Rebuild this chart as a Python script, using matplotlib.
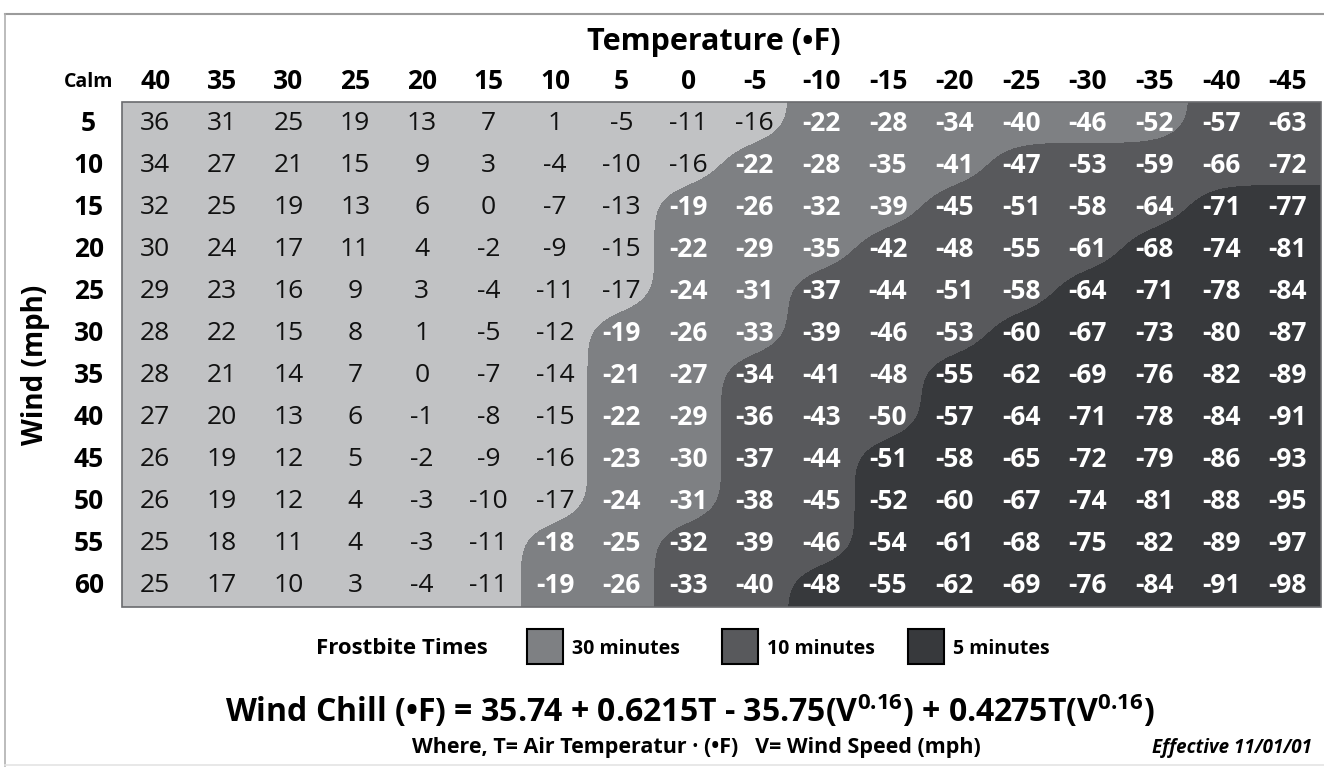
import numpy as np
import matplotlib
matplotlib.use("Agg")
import matplotlib.pyplot as plt
from matplotlib.patches import Rectangle
from matplotlib.lines import Line2D

# ---- data ----
temps = [40, 35, 30, 25, 20, 15, 10, 5, 0, -5, -10, -15, -20, -25, -30, -35, -40, -45]
winds = [5, 10, 15, 20, 25, 30, 35, 40, 45, 50, 55, 60]
chill = [
    [36, 31, 25, 19, 13, 7, 1, -5, -11, -16, -22, -28, -34, -40, -46, -52, -57, -63],
    [34, 27, 21, 15, 9, 3, -4, -10, -16, -22, -28, -35, -41, -47, -53, -59, -66, -72],
    [32, 25, 19, 13, 6, 0, -7, -13, -19, -26, -32, -39, -45, -51, -58, -64, -71, -77],
    [30, 24, 17, 11, 4, -2, -9, -15, -22, -29, -35, -42, -48, -55, -61, -68, -74, -81],
    [29, 23, 16, 9, 3, -4, -11, -17, -24, -31, -37, -44, -51, -58, -64, -71, -78, -84],
    [28, 22, 15, 8, 1, -5, -12, -19, -26, -33, -39, -46, -53, -60, -67, -73, -80, -87],
    [28, 21, 14, 7, 0, -7, -14, -21, -27, -34, -41, -48, -55, -62, -69, -76, -82, -89],
    [27, 20, 13, 6, -1, -8, -15, -22, -29, -36, -43, -50, -57, -64, -71, -78, -84, -91],
    [26, 19, 12, 5, -2, -9, -16, -23, -30, -37, -44, -51, -58, -65, -72, -79, -86, -93],
    [26, 19, 12, 4, -3, -10, -17, -24, -31, -38, -45, -52, -60, -67, -74, -81, -88, -95],
    [25, 18, 11, 4, -3, -11, -18, -25, -32, -39, -46, -54, -61, -68, -75, -82, -89, -97],
    [25, 17, 10, 3, -4, -11, -19, -26, -33, -40, -48, -55, -62, -69, -76, -84, -91, -98],
]
# column index where the 30 / 10 / 5 minute frostbite zones start, per wind row
zone_starts = [
    [10, 16, 18], [9, 13, 18], [8, 12, 16], [8, 11, 15], [8, 10, 14], [7, 10, 13],
    [7, 9, 12], [7, 9, 12], [7, 9, 11], [7, 9, 11], [6, 8, 11], [6, 8, 10],
]
frost_labels = ["30 minutes", "10 minutes", "5 minutes"]
zone_colors = ["#c1c2c4", "#7e8083", "#58595c", "#37393c"]

FONT = "Open Sans"
plt.rcParams["font.family"] = [FONT, "DejaVu Sans"]
plt.rcParams["mathtext.fontset"] = "custom"
plt.rcParams["mathtext.rm"] = FONT + ":bold"
plt.rcParams["mathtext.default"] = "rm"

W, H = 1324, 770
fig = plt.figure(figsize=(W / 100, H / 100), dpi=100)
fig.patch.set_facecolor("white")

def fx(px):
    return px / W

def fy(py):
    return 1 - py / H

# table axes: 122..1321 px wide, 102..607 px tall
left, right, top, bottom = 122, 1321, 102, 607
ax = fig.add_axes([fx(left), fy(bottom), (right - left) / W, (bottom - top) / H])
ncol, nrow = len(temps), len(winds)
ax.set_xlim(0, ncol)
ax.set_ylim(nrow, 0)
ax.axis("off")

# zone matrix -> smoothed field so the boundaries curve like the original
zone = np.array([[sum(c >= s for s in st) for c in range(ncol)] for st in zone_starts], float)
up = 24
fine = np.kron(zone, np.ones((up, up)))

def blur(a, sigma, axis):
    r = int(3 * sigma)
    k = np.exp(-0.5 * (np.arange(-r, r + 1) / sigma) ** 2)
    k /= k.sum()
    pad = [(0, 0), (0, 0)]
    pad[axis] = (r, r)
    a = np.pad(a, pad, mode="edge")
    return np.apply_along_axis(lambda v: np.convolve(v, k, mode="valid"), axis, a)

smooth = blur(blur(fine, 0.45 * up, 1), 0.45 * up, 0)
xs = np.linspace(0, ncol, fine.shape[1])
ys = np.linspace(0, nrow, fine.shape[0])
ax.contourf(xs, ys, smooth, levels=[-1, 0.5, 1.5, 2.5, 4], colors=zone_colors)
ax.add_patch(Rectangle((0, 0), ncol, nrow, fill=False, ec="#6a6b6e", lw=1.2, clip_on=False))

for r in range(nrow):
    for c in range(ncol):
        z = zone[r, c]
        ax.text(c + 0.5, r + 0.5, str(chill[r][c]), ha="center", va="center",
                fontsize=19, color="white" if z > 0 else "#111111",
                fontweight="bold" if z > 0 else "normal")

# headers
for c, t in enumerate(temps):
    ax.text(c + 0.5, -0.48, str(t), ha="center", va="center", fontsize=19,
            fontweight="bold", clip_on=False)
ax.text(-0.5, -0.48, "Calm", ha="center", va="center", fontsize=14,
        fontweight="bold", clip_on=False)
for r, w in enumerate(winds):
    ax.text(-0.5, r + 0.5, str(w), ha="center", va="center", fontsize=19,
            fontweight="bold", clip_on=False)

fig.text(fx(714), fy(42), "Temperature (•F)", ha="center", va="center",
         fontsize=22, fontweight="bold")
fig.text(fx(36), fy(365), "Wind (mph)", ha="center", va="center", rotation=90,
         fontsize=20, fontweight="bold")

# legend
fig.text(fx(402), fy(648), "Frostbite Times", ha="center", va="center",
         fontsize=16, fontweight="bold")
box_x = [527, 722, 908]
for i, lab in enumerate(frost_labels):
    fig.add_artist(Rectangle((fx(box_x[i]), fy(664)), 36 / W, 35 / H,
                             transform=fig.transFigure, fc=zone_colors[i + 1],
                             ec="black", lw=1.5))
    fig.text(fx(box_x[i] + 45), fy(649), lab, ha="left", va="center",
             fontsize=14, fontweight="bold")

# formula
fig.text(fx(690), fy(711),
         "Wind Chill (•F) = 35.74 + 0.6215T - 35.75(V$^{0.16}$) + 0.4275T(V$^{0.16}$)",
         ha="center", va="center", fontsize=23, fontweight="bold")
fig.text(fx(696), fy(748), "Where, T= Air Temperatur · (•F)   V= Wind Speed (mph)",
         ha="center", va="center", fontsize=15.5, fontweight="bold")
fig.text(fx(1312), fy(748), "Effective 11/01/01", ha="right", va="center",
         fontsize=13.5, fontweight="bold", style="italic")

# outer frame lines
fig.add_artist(Line2D([fx(5), 1], [fy(14), fy(14)], transform=fig.transFigure,
                      color="#9b9b9b", lw=1.5))
fig.add_artist(Line2D([fx(5), fx(5)], [fy(14), fy(766)], transform=fig.transFigure,
                      color="#b0b0b0", lw=1.2))
fig.add_artist(Line2D([fx(5), 1], [fy(765), fy(765)], transform=fig.transFigure,
                      color="#e4e4e4", lw=1.2))

fig.savefig("out.png", dpi=100)
